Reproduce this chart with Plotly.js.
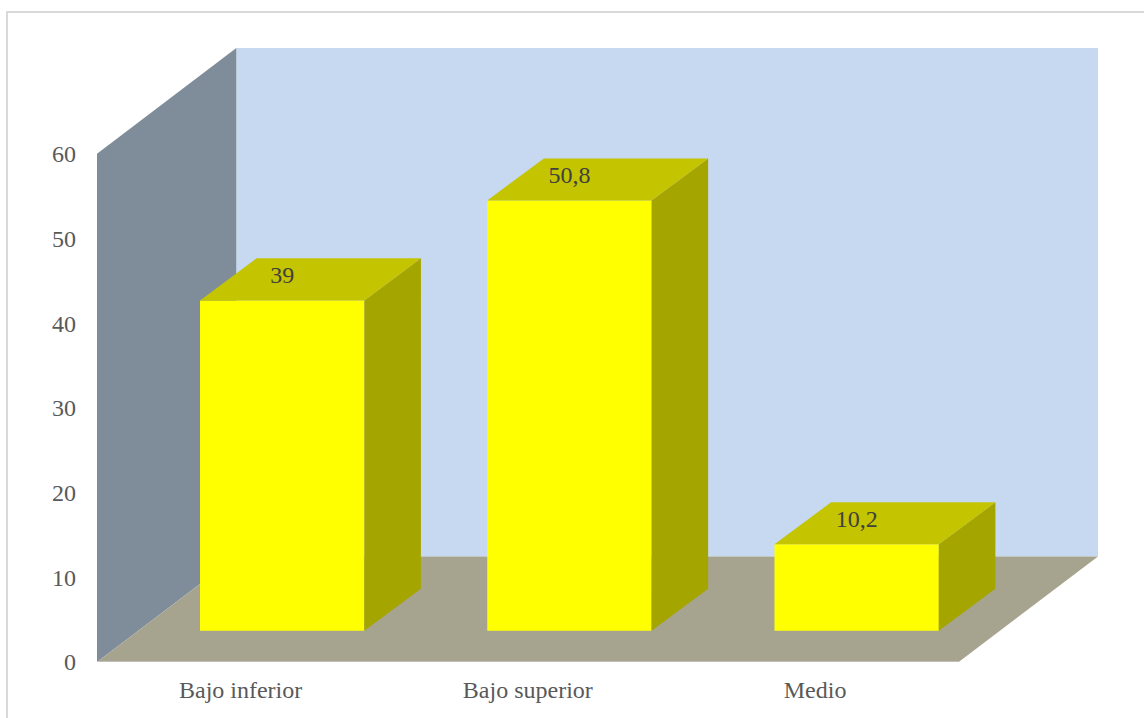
<!DOCTYPE html>
<html>
<head>
<meta charset="utf-8">
<script src="https://cdn.plot.ly/plotly-3.0.1.min.js"></script>
<style>
  html, body { margin: 0; padding: 0; background: #fff; overflow: hidden; }
  #frame { position: absolute; left: 6px; top: 11px; width: 1138px; height: 707px;
           border-left: 2px solid #d9d9d9; border-top: 2px solid #d9d9d9; box-sizing: border-box; }
  #chart { position: absolute; left: 0; top: 0; width: 1144px; height: 718px; }
</style>
</head>
<body>
<div id="frame"></div>
<div id="chart"></div>
<script>
// Survey results by level
const categories = ['Bajo inferior', 'Bajo superior', 'Medio'];
const values = [39, 50.8, 10.2];
const yTicks = [0, 10, 20, 30, 40, 50, 60];

// Pseudo-3D projection, in axis units
const wallDepthX = 0.485;   // floor depth along x
const wallDepthY = 12.45;   // floor depth along y
const barDepthX = 0.197;    // bar depth along x
const barDepthY = 4.97;     // bar depth along y
const barWidth = 0.572;
const barShiftX = 0.1447;   // bars stand part-way back on the floor
const barBase = 3.69;
const axisTop = 60;
const xMin = -0.5, xMax = 2.985, yMax = 72.5;

const polygon = (x, y, color) => ({
  type: 'scatter', mode: 'lines', x: x.concat(x[0]), y: y.concat(y[0]),
  fill: 'toself', fillcolor: color, line: { width: 0 },
  hoverinfo: 'skip', showlegend: false
});

const barX = categories.map((_, i) => i + barShiftX);

const frontFaces = {
  type: 'bar', x: barX, y: values, base: barBase, width: barWidth,
  marker: { color: '#ffff00', line: { width: 0 } },
  hoverinfo: 'skip', showlegend: false
};

const sideFaces = values.map((v, i) => {
  const r = barX[i] + barWidth / 2, top = barBase + v;
  return polygon([r, r + barDepthX, r + barDepthX, r],
                 [barBase, barBase + barDepthY, top + barDepthY, top], '#a5a500');
});

const topFaces = values.map((v, i) => {
  const l = barX[i] - barWidth / 2, r = barX[i] + barWidth / 2, top = barBase + v;
  return polygon([l, r, r + barDepthX, l + barDepthX],
                 [top, top, top + barDepthY, top + barDepthY], '#c4c400');
});

const valueLabels = {
  type: 'scatter', mode: 'text', x: barX,
  y: values.map(v => barBase + v + 2.8),
  text: values.map(v => String(v).replace('.', ',')),
  textposition: 'middle center',
  textfont: { family: '"Liberation Serif", serif', size: 24, color: '#404040' },
  hoverinfo: 'skip', showlegend: false
};

const pathOf = pts => 'M' + pts.map(p => p.join(',')).join('L') + 'Z';
const wallShape = (pts, color) => ({
  type: 'path', xref: 'x', yref: 'y', layer: 'below',
  path: pathOf(pts), fillcolor: color, line: { width: 0 }
});

const xFloorEnd = xMax - wallDepthX;
const shapes = [
  // back wall
  wallShape([[xMin + wallDepthX, wallDepthY], [xMax, wallDepthY], [xMax, yMax], [xMin + wallDepthX, yMax]], '#c6d9f0'),
  // left wall
  wallShape([[xMin, 0], [xMin + wallDepthX, wallDepthY], [xMin + wallDepthX, yMax], [xMin, axisTop]], '#7f8c99'),
  // floor
  wallShape([[xMin, 0], [xFloorEnd, 0], [xMax, wallDepthY], [xMin + wallDepthX, wallDepthY]], '#a6a48f'),
  // front edge of the floor
  { type: 'line', xref: 'x', yref: 'y', layer: 'below', x0: xMin, x1: xFloorEnd, y0: 0, y1: 0,
    line: { color: '#c9c9c9', width: 1.5 } }
];

const tickFont = { family: '"Liberation Serif", serif', size: 24, color: '#595959' };

const layout = {
  width: 1144, height: 718,
  margin: { l: 97, r: 46, t: 47.5, b: 56 },
  paper_bgcolor: 'rgba(0,0,0,0)', plot_bgcolor: 'rgba(0,0,0,0)',
  showlegend: false,
  xaxis: {
    range: [xMin, xMax], tickmode: 'array', tickvals: categories.map((_, i) => i), ticktext: categories,
    showgrid: false, zeroline: false, showline: false, ticks: '', tickfont: tickFont, ticklabelstandoff: 11,
    fixedrange: true
  },
  yaxis: {
    range: [0, yMax], tickmode: 'array', tickvals: yTicks, ticktext: yTicks.map(String),
    showgrid: false, zeroline: false, showline: false, ticks: '', tickfont: tickFont, ticklabelstandoff: 20,
    fixedrange: true
  },
  shapes: shapes
};

Plotly.newPlot('chart', [frontFaces, ...sideFaces, ...topFaces, valueLabels], layout,
  { displayModeBar: false, staticPlot: true });
</script>
</body>
</html>
